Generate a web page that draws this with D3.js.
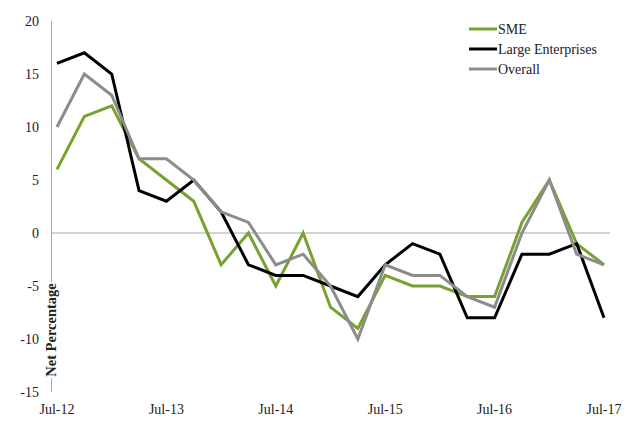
<!DOCTYPE html>
<html>
<head>
<meta charset="utf-8">
<title>Net Percentage</title>
<style>
  body { margin: 0; background: #fff; }
  text { font-family: "Liberation Serif", "DejaVu Serif", serif; font-size: 14px; fill: #222; }
  .ylabel { font-weight: bold; font-size: 14.5px; }
</style>
</head>
<body>
<script src="https://cdnjs.cloudflare.com/ajax/libs/d3/7.8.5/d3.min.js"></script>
<script>
// quarterly points, Jul-12 .. Jul-17
var quarters = ['Jul-12','Oct-12','Jan-13','Apr-13','Jul-13','Oct-13','Jan-14','Apr-14','Jul-14','Oct-14',
  'Jan-15','Apr-15','Jul-15','Oct-15','Jan-16','Apr-16','Jul-16','Oct-16','Jan-17','Apr-17','Jul-17'];
var tickLabels = ['Jul-12','Jul-13','Jul-14','Jul-15','Jul-16','Jul-17'];
var yTicks = [20, 15, 10, 5, 0, -5, -10, -15];

var sme     = [6, 11, 12, 7, 5, 3, -3, 0, -5, 0, -7, -9, -4, -5, -5, -6, -6, 1, 5, -1, -3];
var large   = [16, 17, 15, 4, 3, 5, 2, -3, -4, -4, -5, -6, -3, -1, -2, -8, -8, -2, -2, -1, -8];
var overall = [10, 15, 13, 7, 7, 5, 2, 1, -3, -2, -5, -10, -3, -4, -4, -6, -7, 0, 5, -2, -3];

var seriesNames = ['SME', 'Large Enterprises', 'Overall'];
var seriesColors = ['#77a22f', '#000000', '#8c8c8c'];

var W = 632, H = 423;
var svg = d3.select('body').append('svg')
  .attr('width', W)
  .attr('height', H);

var x = d3.scalePoint()
  .domain(quarters)
  .range([57, 604]);

var y = d3.scaleLinear()
  .domain([-15, 20])
  .range([392, 21]);

// zero line
svg.append('line')
  .attr('x1', 52).attr('x2', 610)
  .attr('y1', y(0)).attr('y2', y(0))
  .attr('stroke', '#a6a6a6').attr('stroke-width', 1);

// y axis line
svg.append('line')
  .attr('x1', 51.5).attr('x2', 51.5)
  .attr('y1', y(20)).attr('y2', y(-15))
  .attr('stroke', '#a6a6a6').attr('stroke-width', 1);

// y tick labels
svg.selectAll('.ytick')
  .data(yTicks)
  .enter().append('text')
  .attr('class', 'ytick')
  .attr('x', 39)
  .attr('y', function(d){ return y(d); })
  .attr('dy', '0.35em')
  .attr('text-anchor', 'end')
  .text(function(d){ return d; });

// x tick labels, yearly
svg.selectAll('.xtick')
  .data(tickLabels)
  .enter().append('text')
  .attr('class', 'xtick')
  .attr('x', function(d){ return x(d); })
  .attr('y', 414)
  .attr('text-anchor', 'middle')
  .text(function(d){ return d; });

// lines
var line = d3.line()
  .x(function(d, i){ return x(quarters[i]); })
  .y(function(d){ return y(d); });

[sme, large, overall].forEach(function(vals, i){
  svg.append('path')
    .datum(vals)
    .attr('d', line)
    .attr('fill', 'none')
    .attr('stroke', seriesColors[i])
    .attr('stroke-width', 3)
    .attr('stroke-linejoin', 'miter');
});

// y axis title, with white box over the axis
var yl = svg.append('g').attr('transform', 'translate(51,330) rotate(-90)');
yl.append('rect')
  .attr('x', -48).attr('y', -8)
  .attr('width', 96).attr('height', 16)
  .attr('fill', '#fff');
yl.append('text')
  .attr('class', 'ylabel')
  .attr('text-anchor', 'middle')
  .attr('dy', '0.35em')
  .text('Net Percentage');

// legend
var legend = svg.selectAll('.legend')
  .data(seriesNames)
  .enter().append('g')
  .attr('class', 'legend')
  .attr('transform', function(d, i){ return 'translate(469,' + (29 + i * 20) + ')'; });

legend.append('line')
  .attr('x1', 0).attr('x2', 28)
  .attr('stroke', function(d, i){ return seriesColors[i]; })
  .attr('stroke-width', 3);

legend.append('text')
  .attr('x', 29)
  .attr('dy', '0.35em')
  .text(function(d){ return d; });
</script>
</body>
</html>
